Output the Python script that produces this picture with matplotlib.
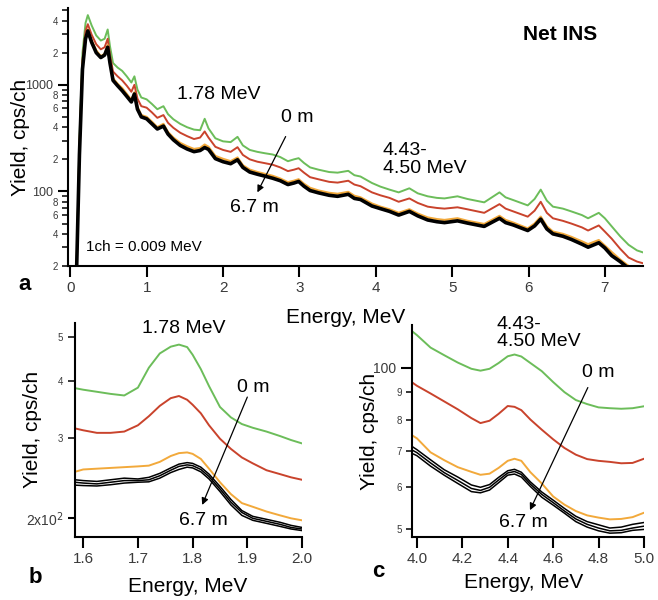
import numpy as np
import matplotlib.pyplot as plt
from matplotlib.ticker import FixedLocator, FixedFormatter, NullLocator

plt.rcParams['font.family'] = ['Liberation Sans', 'DejaVu Sans']

GREEN = '#6cbd5a'
RED = '#c9432c'
ORANGE = '#f2a93b'

# ---- panel a: full net INS spectra, 0 m (green) ... 6.7 m (black)
energy_a = [0.08, 0.12, 0.16, 0.20, 0.23, 0.28, 0.34, 0.40, 0.45, 0.49, 0.52, 0.56,
            0.62, 0.68, 0.74, 0.80, 0.84, 0.88, 0.93, 1.00, 1.07, 1.14, 1.22, 1.28,
            1.35, 1.44, 1.53, 1.62, 1.70, 1.76, 1.81, 1.90, 2.00, 2.10, 2.19, 2.26,
            2.35, 2.45, 2.55, 2.65, 2.75, 2.85, 2.93, 2.99, 3.06, 3.14, 3.25, 3.39,
            3.50, 3.64, 3.72, 3.80, 3.95, 4.06, 4.18, 4.30, 4.44, 4.55, 4.68, 4.80,
            4.90, 5.07, 5.20, 5.42, 5.62, 5.70, 5.80, 5.99, 6.08, 6.16, 6.24, 6.32,
            6.45, 6.56, 6.70, 6.78, 6.92, 7.00, 7.09, 7.20, 7.31, 7.42, 7.52]
green_a = [15, 300, 2000, 3800, 4500, 3600, 2900, 2600, 2700, 3300, 2300, 1600,
           1450, 1350, 1200, 1050, 1200, 900, 760, 730, 660, 590, 630, 530,
           475, 430, 400, 380, 375, 480, 390, 315, 295, 290, 325, 270,
           245, 235, 228, 222, 210, 192, 200, 205, 185, 168, 160, 152,
           150, 156, 142, 138, 120, 111, 104, 98, 107, 96, 90, 87,
           86, 90, 85, 79, 98, 88, 83, 74, 85, 104, 82, 72,
           69, 65, 60, 56, 63, 56, 47, 38, 31.6, 28, 26.5]
red_a = [15, 260, 1700, 3200, 3700, 2950, 2400, 2150, 2250, 2700, 1900, 1330,
         1200, 1100, 980, 860, 1000, 740, 630, 610, 550, 490, 520, 440,
         395, 355, 330, 310, 320, 365, 320, 262, 245, 235, 260, 220,
         200, 190, 184, 178, 168, 155, 160, 165, 150, 136, 130, 123,
         121, 126, 116, 112, 98, 92, 87, 80, 86, 78, 72, 70,
         69, 71, 68, 63, 76, 69, 65, 58, 66, 80, 63, 56,
         53, 50, 46, 43, 48, 42, 36, 29, 24, 22, 21]
orange_a = [15, 230, 1500, 2800, 3300, 2600, 2100, 1850, 1950, 2350, 1650, 1150,
            1020, 930, 820, 720, 850, 620, 520, 500, 450, 400, 430, 360,
            320, 285, 265, 250, 255, 275, 262, 215, 202, 192, 208, 176,
            160, 152, 146, 140, 132, 122, 126, 130, 118, 108, 102, 97,
            95, 99, 91, 88, 77, 72, 68, 63, 68, 62, 57, 55,
            54, 56, 53, 49.5, 59, 54, 51, 45, 50, 58, 47, 42,
            40, 37.5, 34, 32, 35, 31, 27, 23, 20, 17, 16]
black_a = [15, 220, 1400, 2700, 3200, 2500, 2000, 1800, 1900, 2250, 1600, 1100,
           980, 880, 780, 690, 820, 590, 500, 480, 430, 385, 410, 345,
           305, 270, 250, 236, 242, 258, 248, 203, 190, 182, 198, 168,
           152, 145, 139, 133, 126, 116, 120, 124, 112, 102, 97, 92,
           90, 94, 86, 84, 73, 69, 65, 60, 65, 59, 54, 52,
           51, 53, 50.5, 47, 56, 51, 48.5, 43, 47.5, 55, 44.5, 40,
           38, 35.5, 32, 30, 33, 29.5, 25, 22, 19, 16, 15]

# ---- panel b: 1.78 MeV region
energy_b = [1.585, 1.60, 1.625, 1.65, 1.675, 1.70, 1.72, 1.74, 1.76, 1.775, 1.79,
            1.80, 1.815, 1.83, 1.85, 1.87, 1.89, 1.91, 1.935, 1.96, 1.98, 2.0]
green_b = [386, 383, 379, 375, 372, 387, 428, 460, 476, 481, 475,
           457, 425, 390, 351, 333, 322, 316, 310, 303, 297, 292]
red_b = [315, 312, 308, 308, 310, 320, 335, 353, 367, 371, 364,
         355, 340, 320, 299, 284, 272, 264, 255, 250, 246, 243]
orange_b = [253, 256, 257, 258, 259, 260, 261, 266, 274, 278, 279,
            277, 270, 257, 240, 226, 216, 212, 207, 203, 200, 198]
black_b_hi = [243, 242, 241, 243, 245, 244, 246, 251, 258, 263, 265,
              264, 259, 250, 235, 220, 208, 202, 199, 196, 193, 191]
black_b_mid = [240, 239, 238, 240, 242, 242, 243, 248, 255, 260, 262,
               261, 256, 247, 232, 217, 206, 200, 197, 194, 191, 189.5]
black_b_lo = [236.5, 236, 235.5, 237, 239, 240, 240.5, 245, 252, 256, 259,
              258, 253, 244, 229, 214, 203, 198, 195, 192, 189.5, 188]

# ---- panel c: 4.43-4.50 MeV region
energy_c = [3.978, 4.0, 4.06, 4.12, 4.18, 4.24, 4.28, 4.32, 4.36, 4.40, 4.43, 4.46,
            4.50, 4.55, 4.60, 4.65, 4.70, 4.75, 4.80, 4.85, 4.90, 4.95, 5.0]
green_c = [117, 115, 109, 105.5, 102.2, 99.5, 98.7, 99.5, 102, 105, 105.8, 104.9,
           102, 98.5, 94, 90, 87, 85.5, 84.3, 84, 83.8, 84, 84.7]
red_c = [93.9, 92.5, 89.5, 86.5, 83.6, 80.5, 78.8, 79.6, 82, 84.8, 84.5, 83.3,
         80, 76.6, 73.5, 70.8, 68.8, 67.5, 67, 66.7, 66.3, 66.4, 67.6]
orange_c = [74.8, 73.8, 69.5, 67.2, 65.2, 63.9, 63.1, 63.4, 65, 67, 67.6, 67,
            63.8, 60.8, 57.5, 55.5, 54, 53, 52.5, 52.1, 52.2, 52.6, 53.6]
black_c_hi = [71.3, 70.3, 67.3, 64.5, 62.5, 60.4, 59.8, 60.5, 62.4, 64.2, 64.6, 63.8,
              61.2, 58.6, 56.6, 54.6, 52.8, 51.6, 50.9, 50.2, 50.4, 51, 51.4]
black_c_mid = [70.2, 69.4, 66.4, 63.7, 61.6, 59.5, 59.0, 59.8, 61.7, 63.6, 64, 63.2,
               60.6, 58, 56, 54, 52.2, 51, 50.2, 49.6, 49.7, 50.2, 50.6]
black_c_lo = [69.2, 68.5, 65.5, 63, 60.8, 58.7, 58.4, 59.1, 61, 63, 63.3, 62.5,
              60, 57.3, 55.4, 53.5, 51.6, 50.4, 49.6, 49.1, 49.2, 49.7, 49.9]

TICK_GREY = '#3a3a3a'


def style_axis(ax):
    for side in ['top', 'right']:
        ax.spines[side].set_visible(False)
    for side in ['left', 'bottom']:
        ax.spines[side].set_linewidth(1.5)
    ax.tick_params(which='major', direction='out', length=7, width=1.5,
                   labelcolor=TICK_GREY)
    ax.tick_params(which='minor', direction='out', length=3.5, width=1.1,
                   labelcolor=TICK_GREY)
    ax.tick_params(axis='x', which='major', length=8, labelsize=11, pad=3)


def annotate_depth(ax, top_xy, start, end, bottom_xy):
    ax.text(*top_xy, '0 m', fontsize=14, ha='center', va='center')
    ax.annotate('', xy=end, xytext=start,
                arrowprops=dict(arrowstyle='-|>', color='black', lw=0.9,
                                mutation_scale=10, shrinkA=0, shrinkB=0))
    ax.text(*bottom_xy, '6.7 m', fontsize=14, ha='center', va='center')


fig = plt.figure(figsize=(6.58, 6.0), dpi=100)

# ---------------- panel a
ax_a = fig.add_axes([0.1033, 0.5567, 0.874, 0.43])
ax_a.plot(energy_a, green_a, color=GREEN, lw=1.4)
ax_a.plot(energy_a, red_a, color=RED, lw=1.4)
ax_a.plot(energy_a, orange_a, color=ORANGE, lw=1.6)
ax_a.plot(energy_a, black_a, color='black', lw=2.6)
ax_a.set_yscale('log')
ax_a.set_xlim(-0.03, 7.5)
ax_a.set_ylim(20, 5250)
style_axis(ax_a)
ax_a.xaxis.set_major_locator(FixedLocator(range(8)))
ax_a.xaxis.set_minor_locator(NullLocator())
ax_a.yaxis.set_major_locator(FixedLocator([100, 1000]))
ax_a.yaxis.set_major_formatter(FixedFormatter(['100', '1000']))
minor_a = [d * 10 ** p for p in (1, 2, 3) for d in range(2, 10) if d * 10 ** p < 5250]
minor_a_lab = [str(int(v / 10 ** int(np.log10(v)))) if int(v / 10 ** int(np.log10(v))) % 2 == 0 else ''
               for v in minor_a]
ax_a.yaxis.set_minor_locator(FixedLocator(minor_a))
ax_a.yaxis.set_minor_formatter(FixedFormatter(minor_a_lab))
ax_a.tick_params(axis='y', which='major', labelsize=9, length=7)
ax_a.tick_params(axis='y', which='minor', labelsize=7, length=4)
ax_a.set_xlabel('Energy, MeV', fontsize=15)
ax_a.xaxis.set_label_coords(0.483, -0.163)
ax_a.set_ylabel('Yield, cps/ch', fontsize=15)
ax_a.yaxis.set_label_coords(-0.066, 0.5)
ax_a.text(6.42, 2930, 'Net INS', fontsize=15, fontweight='bold', ha='center', va='center')
ax_a.text(1.95, 807, '1.78 MeV', fontsize=14, ha='center', va='center')
ax_a.text(4.09, 200, '4.43-\n4.50 MeV', fontsize=14, ha='left', va='center', linespacing=1.05)
ax_a.text(0.2, 30, '1ch = 0.009 MeV', fontsize=11, ha='left', va='center')
annotate_depth(ax_a, (2.975, 492), (2.82, 327), (2.45, 98), (2.41, 70.6))

# ---------------- panel b
ax_b = fig.add_axes([0.114, 0.105, 0.345, 0.357])
ax_b.plot(energy_b, green_b, color=GREEN, lw=1.4)
ax_b.plot(energy_b, red_b, color=RED, lw=1.4)
ax_b.plot(energy_b, orange_b, color=ORANGE, lw=1.4)
for series in (black_b_hi, black_b_mid, black_b_lo):
    ax_b.plot(energy_b, series, color='black', lw=1.1)
ax_b.set_yscale('log')
ax_b.set_xlim(1.585, 2.0)
ax_b.set_ylim(182, 537)
style_axis(ax_b)
ax_b.xaxis.set_major_locator(FixedLocator([1.6, 1.7, 1.8, 1.9, 2.0]))
ax_b.xaxis.set_major_formatter(FixedFormatter(['1.6', '1.7', '1.8', '1.9', '2.0']))
ax_b.xaxis.set_minor_locator(NullLocator())
ax_b.yaxis.set_major_locator(FixedLocator([200]))
ax_b.yaxis.set_major_formatter(FixedFormatter(['2x10$^2$']))
ax_b.yaxis.set_minor_locator(FixedLocator([300, 400, 500]))
ax_b.yaxis.set_minor_formatter(FixedFormatter(['3', '4', '5']))
ax_b.tick_params(axis='y', which='major', labelsize=10, length=5)
ax_b.tick_params(axis='y', which='minor', labelsize=7, length=5)
ax_b.set_xlabel('Energy, MeV', fontsize=15)
ax_b.xaxis.set_label_coords(0.498, -0.187)
ax_b.set_ylabel('Yield, cps/ch', fontsize=15)
ax_b.yaxis.set_label_coords(-0.145, 0.5)
ax_b.text(1.783, 523, '1.78 MeV', fontsize=14, ha='center', va='center', clip_on=False)
annotate_depth(ax_b, (1.911, 388), (1.90, 369), (1.8175, 214), (1.819, 198))

# ---------------- panel c
ax_c = fig.add_axes([0.626, 0.105, 0.3526, 0.353])
ax_c.plot(energy_c, green_c, color=GREEN, lw=1.4)
ax_c.plot(energy_c, red_c, color=RED, lw=1.4)
ax_c.plot(energy_c, orange_c, color=ORANGE, lw=1.4)
for series in (black_c_hi, black_c_mid, black_c_lo):
    ax_c.plot(energy_c, series, color='black', lw=1.1)
ax_c.set_yscale('log')
ax_c.set_xlim(3.978, 5.0)
ax_c.set_ylim(48.3, 120)
style_axis(ax_c)
ax_c.xaxis.set_major_locator(FixedLocator([4.0, 4.2, 4.4, 4.6, 4.8, 5.0]))
ax_c.xaxis.set_major_formatter(FixedFormatter(['4.0', '4.2', '4.4', '4.6', '4.8', '5.0']))
ax_c.xaxis.set_minor_locator(NullLocator())
ax_c.yaxis.set_major_locator(FixedLocator([100]))
ax_c.yaxis.set_major_formatter(FixedFormatter(['100']))
ax_c.yaxis.set_minor_locator(FixedLocator([50, 60, 70, 80, 90]))
ax_c.yaxis.set_minor_formatter(FixedFormatter(['5', '6', '7', '8', '9']))
ax_c.tick_params(axis='y', which='major', labelsize=10, length=8)
ax_c.tick_params(axis='y', which='minor', labelsize=7, length=4)
ax_c.set_xlabel('Energy, MeV', fontsize=15)
ax_c.xaxis.set_label_coords(0.483, -0.17)
ax_c.set_ylabel('Yield, cps/ch', fontsize=15)
ax_c.yaxis.set_label_coords(-0.142, 0.5)
ax_c.text(4.352, 116, '4.43-\n4.50 MeV', fontsize=14, ha='left', va='center',
          linespacing=1.0, clip_on=False)
annotate_depth(ax_c, (4.797, 97.9), (4.753, 91.8), (4.498, 54.2), (4.471, 51.5))

# panel letters
fig.text(0.038, 0.525, 'a', fontsize=16, fontweight='bold', ha='center', va='center')
fig.text(0.053, 0.037, 'b', fontsize=16, fontweight='bold', ha='center', va='center')
fig.text(0.575, 0.047, 'c', fontsize=16, fontweight='bold', ha='center', va='center')

fig.savefig('out.png', dpi=100)
